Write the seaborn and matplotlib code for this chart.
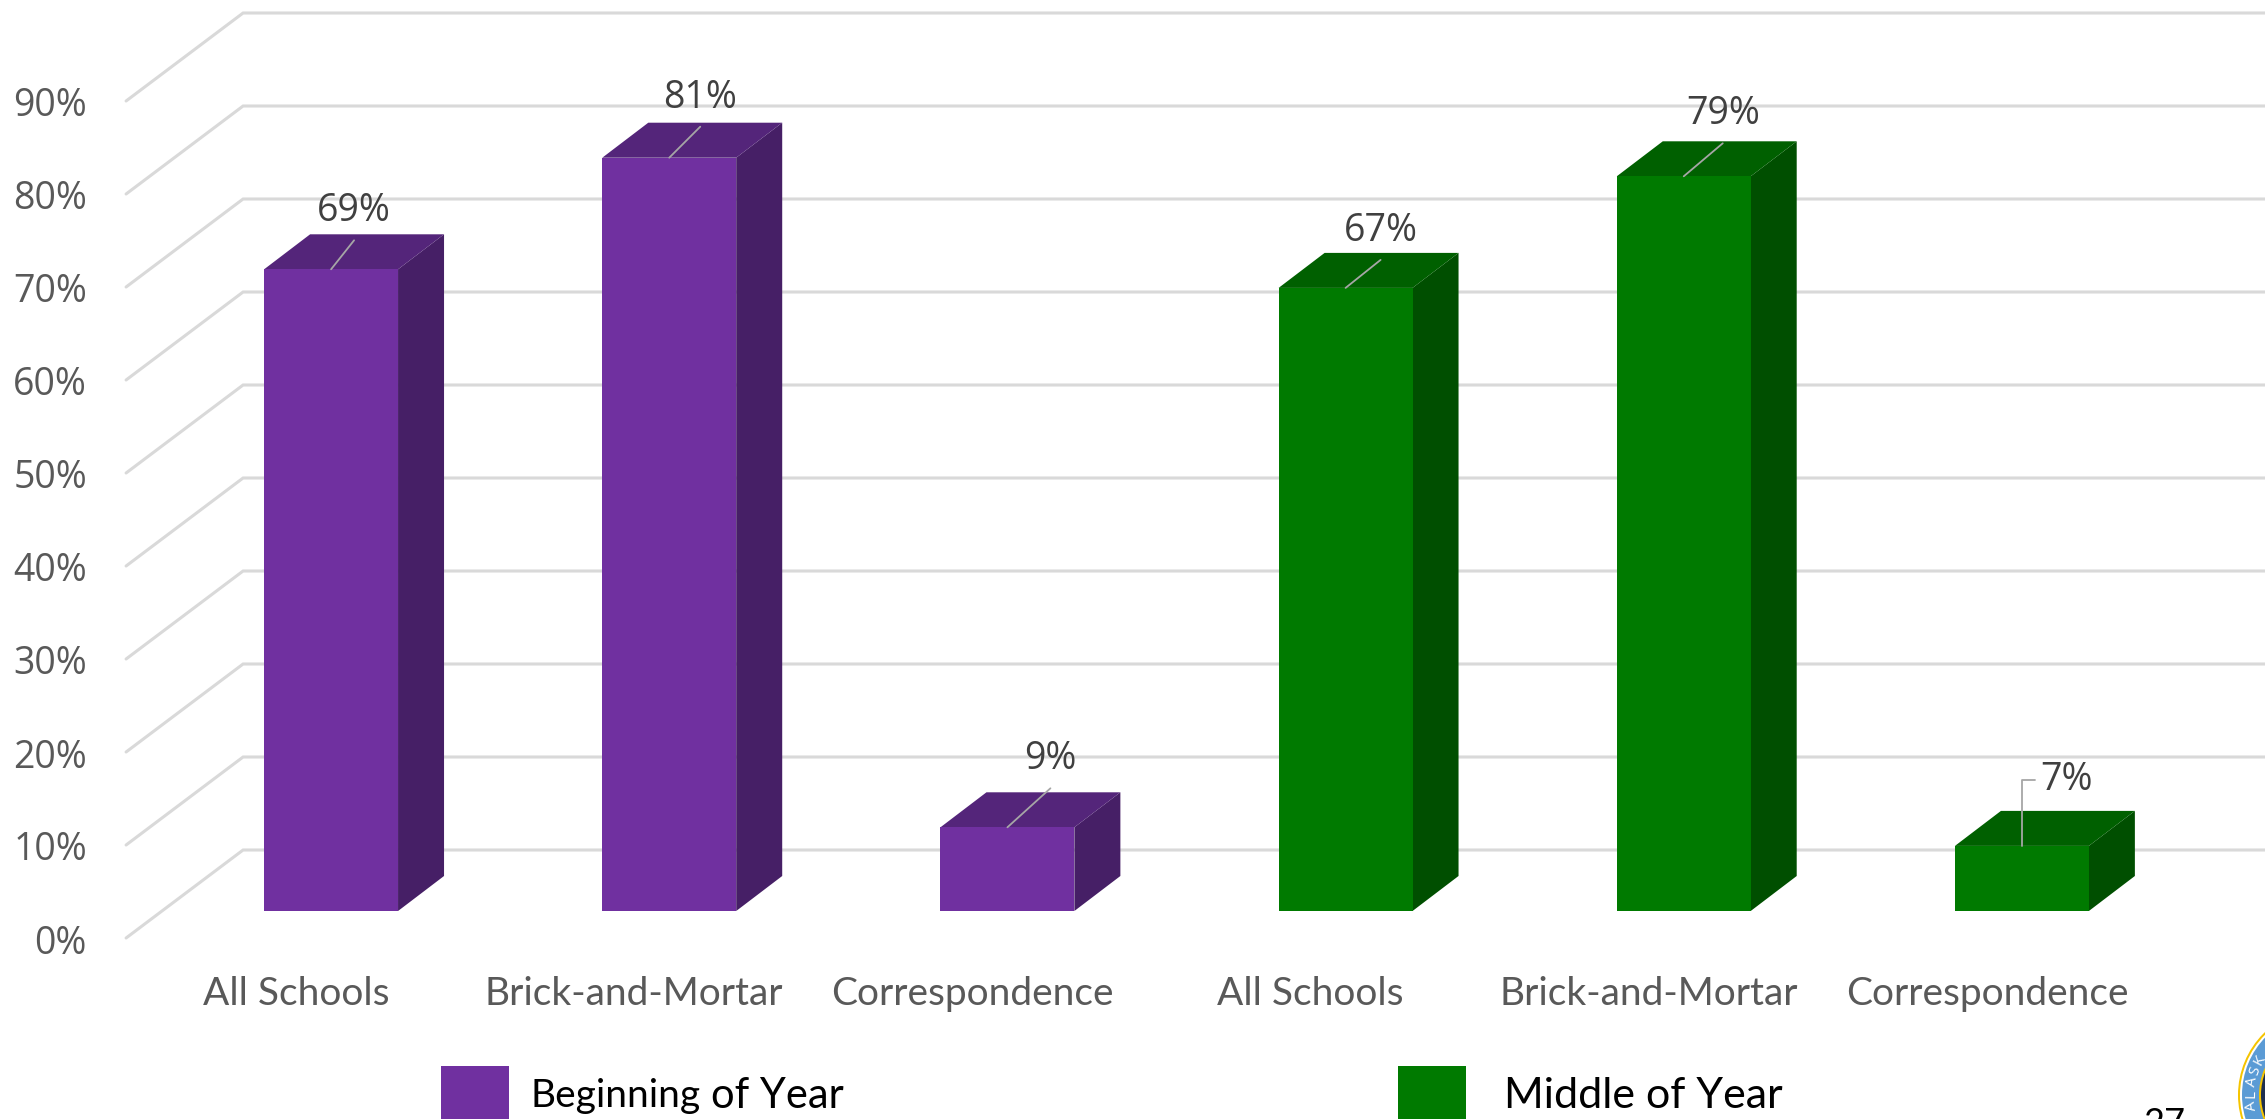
import numpy as np
import pandas as pd
import matplotlib
matplotlib.use('Agg')
import matplotlib.pyplot as plt
import seaborn as sns
from matplotlib.patches import Polygon, Rectangle, Ellipse
from matplotlib.transforms import ScaledTranslation

# values
categories = ['All Schools', 'Brick-and-Mortar', 'Correspondence',
              'All Schools', 'Brick-and-Mortar', 'Correspondence']
periods = ['Beginning of Year'] * 3 + ['Middle of Year'] * 3
values = [69, 81, 9, 67, 79, 7]
y_ticks = [0, 10, 20, 30, 40, 50, 60, 70, 80, 90]
page_number = '27'
seal_letters = ['A', 'L', 'A', 'S', 'K']

# colours: front, top, side
front = {'Beginning of Year': '#7030A0', 'Middle of Year': '#007A00'}
top = {'Beginning of Year': '#54257A', 'Middle of Year': '#006000'}
side = {'Beginning of Year': '#461F66', 'Middle of Year': '#004F00'}

W, H = 2265, 1119
sns.set_style('white')
plt.rcParams['font.family'] = ['Open Sans', 'DejaVu Sans']

fig = plt.figure(figsize=(W / 100, H / 100), dpi=100)
ax = fig.add_axes([162 / W, (H - 911) / H, 2029 / W, 837 / H])

df = pd.DataFrame({'slot': [str(i) for i in range(6)], 'period': periods, 'value': values})
sns.barplot(data=df, x='slot', y='value', hue='period', palette=front, dodge=False, saturation=1,
            width=0.396, legend=False, ax=ax, zorder=4, linewidth=0, edgecolor='none')
ax.set_xlim(-0.5, 5.5)
ax.set_ylim(0, 90)
ax.set_xlabel('')
ax.set_ylabel('')
sns.despine(ax=ax, left=True, bottom=True)
ax.patch.set_alpha(0)

# pixel to data helpers for the fake 3D depth
px_x = 2029 / 6
px_y = 837 / 90
depth_x = 46 / px_x
depth_y = 35 / px_y

# walls
for v in y_ticks:
    xs = [(126 - 331) / px_x, (243 - 331) / px_x, (2270 - 331) / px_x]
    ys = [v - 27 / px_y, v + 61 / px_y, v + 61 / px_y]
    ax.plot(xs, ys, color='#D9D9D9', lw=2.2, clip_on=False, zorder=1, solid_joinstyle='miter')

# side and top faces
bars = [b for c in ax.containers for b in c]
bars = sorted(bars, key=lambda b: b.get_x())
for bar, period in zip(bars, periods):
    x0, x1 = bar.get_x(), bar.get_x() + bar.get_width()
    h = bar.get_height()
    ax.add_patch(Polygon([(x1, 0), (x1 + depth_x, depth_y), (x1 + depth_x, h + depth_y), (x1, h)],
                         closed=True, facecolor=side[period], edgecolor='none', clip_on=False, zorder=3))
    ax.add_patch(Polygon([(x0, h), (x0 + depth_x, h + depth_y), (x1 + depth_x, h + depth_y), (x1, h)],
                         closed=True, facecolor=top[period], edgecolor='none', clip_on=False, zorder=3))

# data labels with leader lines, offsets in px
label_dx = [23, 31, 43, 35, 39, 45]
label_dy = [58, 60, 68, 57, 62, 66]
for i, (bar, val) in enumerate(zip(bars, values)):
    cx = bar.get_x() + bar.get_width() / 2
    tx = cx + label_dx[i] / px_x
    ty = val + label_dy[i] / px_y
    if i == 5:
        ax.plot([cx, cx, cx + 13 / px_x], [val, ty, ty], color='#A6A6A6', lw=1.3, clip_on=False, zorder=6)
    else:
        ax.plot([cx, tx], [val, val + (label_dy[i] - 29) / px_y], color='#A6A6A6', lw=1.3, clip_on=False, zorder=6)
    ax.text(tx, ty, f'{val}%', ha='center', va='center', fontsize=27, color='#404040', zorder=7)

# ticks
ax.set_xticks(range(6))
ax.set_xticklabels(categories, fontsize=28, color='#595959', family=['Lato', 'DejaVu Sans'])
ax.set_yticks(y_ticks)
ax.set_yticklabels([f'{v}%' for v in y_ticks], fontsize=27, color='#595959')
ax.tick_params(axis='both', length=0)
ax.tick_params(axis='x', pad=47)
ax.tick_params(axis='y', pad=54)
shift_x = ScaledTranslation(-35 / 100, 0, fig.dpi_scale_trans)
shift_y = ScaledTranslation(0, -28 / 100, fig.dpi_scale_trans)
for lab in ax.get_xticklabels():
    lab.set_transform(lab.get_transform() + shift_x)
for lab in ax.get_yticklabels():
    lab.set_transform(lab.get_transform() + shift_y)
ax.grid(False)

# legend, placed by hand like on the slide
fig.add_artist(Rectangle((441 / W, 0), 68 / W, 53 / H, transform=fig.transFigure,
                         facecolor=front['Beginning of Year'], edgecolor='none'))
fig.add_artist(Rectangle((1398 / W, 0), 68 / W, 53 / H, transform=fig.transFigure,
                         facecolor=front['Middle of Year'], edgecolor='none'))
lato = ['Lato', 'DejaVu Sans']
fig.text(530 / W, 1 - 1096 / H, 'Beginning', fontsize=28, family=lato, color='black', va='center')
fig.text(711 / W, 1 - 1096 / H, 'of Year', fontsize=30, family=lato, color='black', va='center')
fig.text(1504 / W, 1 - 1096 / H, 'Middle of Year', fontsize=31, family=lato, color='black', va='center')

# page number runs off the slide bottom
fig.text(2164 / W, 1 - 1107 / H, page_number, fontsize=26, family=lato, color='black', ha='center', va='top')

# state seal, cut off by the slide edge
seal_x, seal_y = 2325, 1095
for r, c in [(87, '#F5C400'), (85, 'white'), (83, '#5B9BD5'), (66, '#F5C400'), (64, '#1F2F4F')]:
    fig.add_artist(Ellipse((seal_x / W, 1 - seal_y / H), 2 * r / W, 2 * r / H, transform=fig.transFigure,
                           facecolor=c, edgecolor='none'))
for letter, ang in zip(seal_letters, [188, 179, 170, 161, 152]):
    rad = np.deg2rad(ang)
    fig.text((seal_x + 74 * np.cos(rad)) / W, 1 - (seal_y - 74 * np.sin(rad)) / H, letter, fontsize=11,
             color='white', ha='center', va='center', rotation=ang - 90)

fig.savefig('out.png', dpi=100)
